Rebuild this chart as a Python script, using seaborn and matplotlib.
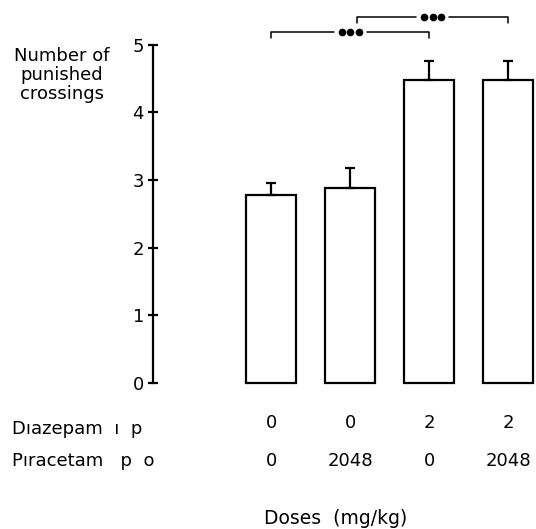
import matplotlib
matplotlib.use("Agg")
import matplotlib.pyplot as plt
import matplotlib.transforms as mtransforms
import seaborn as sns
import pandas as pd
import numpy as np

# ---- data ----
groups = ["G1", "G2", "G3", "G4"]
means = [2.78, 2.88, 4.48, 4.48]
sems = [0.17, 0.29, 0.28, 0.28]
diazepam = ["0", "0", "2", "2"]
piracetam = ["0", "2048", "0", "2048"]
yticks = [0, 1, 2, 3, 4, 5]
comparisons = [(0, 2), (1.08, 3)]

sns.set_style("white")
plt.rcParams["font.family"] = ["DejaVu Sans"]
plt.rcParams["text.color"] = "black"

FS = 13
W, H = 536, 529
fig = plt.figure(figsize=(W / 100, H / 100), dpi=100)
ax = fig.add_axes([153 / W, 1 - 382.8 / H, 383 / W, (382.8 - 44.7) / H])

df = pd.DataFrame({"group": groups, "mean": means})
sns.barplot(data=df, x="group", y="mean", order=groups, color="white",
            edgecolor="black", linewidth=1.6, width=0.633, errorbar=None,
            saturation=1, ax=ax)
for p in ax.patches:
    p.set_clip_on(False)

xs = np.arange(len(groups))
ax.errorbar(xs, means, yerr=[np.zeros(len(sems)), sems], fmt="none",
            ecolor="black", elinewidth=1.6, capsize=3.8, capthick=1.6,
            clip_on=False)

ax.set_xlim(-1.5, 3.35)
ax.set_ylim(0, 5)
ax.set_yticks(yticks)
ax.set_yticklabels([str(t) for t in yticks], fontsize=FS, color="black")
ax.set_xticks([])
ax.set_xlabel("")
ax.set_ylabel("")
for s in ["top", "right", "bottom"]:
    ax.spines[s].set_visible(False)
ax.spines["left"].set_linewidth(1.6)
ax.spines["left"].set_color("black")
ax.spines["left"].set_bounds(0, 5)
ax.tick_params(axis="y", direction="inout", length=7, width=1.6,
               pad=3, colors="black", left=True)

# significance brackets
levels = [(5.185, 5.105), (5.407, 5.318)]
for (x1, x2), (ytop, yend) in zip(comparisons, levels):
    xm = (x1 + x2) / 2
    gap = 0.21
    ax.plot([x1, x1, xm - gap], [yend, ytop, ytop], color="black", lw=1.1,
            clip_on=False)
    ax.plot([xm + gap, x2, x2], [ytop, ytop, yend], color="black", lw=1.1,
            clip_on=False)
    ax.plot([xm - 0.11, xm, xm + 0.11], [ytop] * 3, ls="none", marker="o",
            ms=4.5, color="black", clip_on=False)

# y label
fig.text(62 / W, 1 - 75 / H, "Number of\npunished\ncrossings", ha="center",
         va="center", fontsize=FS, linespacing=1.05)

# dose table
trans = mtransforms.blended_transform_factory(ax.transData, fig.transFigure)
fig.text(12 / W, 1 - 429 / H, "Dıazepam  ı  p", ha="left", va="center",
         fontsize=FS)
fig.text(12 / W, 1 - 461 / H, "Pıracetam   p  o", ha="left", va="center",
         fontsize=FS)
for x, d, p in zip(xs, diazepam, piracetam):
    ax.text(x, 1 - 422.5 / H, d, transform=trans, ha="center", va="center",
            fontsize=FS)
    ax.text(x, 1 - 461 / H, p, transform=trans, ha="center", va="center",
            fontsize=FS)
fig.text(336 / W, 1 - 518 / H, "Doses  (mg/kg)", ha="center", va="center",
         fontsize=13.5)

fig.savefig("out.png", dpi=100, facecolor="white")
